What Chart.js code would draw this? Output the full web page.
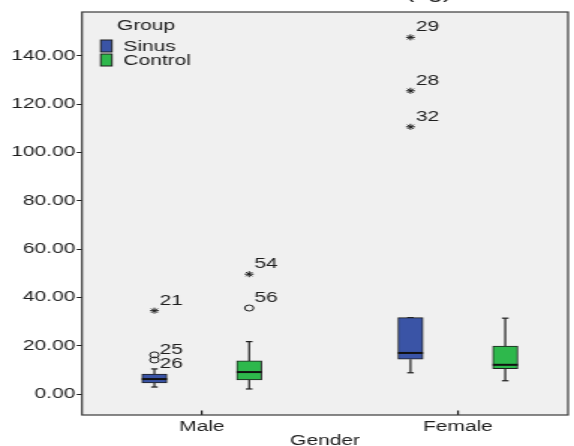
<!DOCTYPE html>
<html>
<head>
<meta charset="UTF-8">
<title>Boxplot by Gender</title>
<style>
  html, body { margin: 0; padding: 0; background: #fff; overflow: hidden; }
  /* the reference is stretched horizontally, so draw narrow and stretch */
  .wrap { width: 383px; height: 446px; transform: scaleX(1.49869); transform-origin: 0 0; }
</style>
<script src="https://cdn.jsdelivr.net/npm/chart.js"></script>
</head>
<body>
<div class="wrap"><canvas id="box" width="383" height="446"></canvas></div>
<script>
// categories
const genders = ['Male', 'Female'];
const groups = ['Sinus', 'Control'];
const yTicks = [0, 20, 40, 60, 80, 100, 120, 140];

// box statistics, one value per gender (Male, Female)
const sinusMin    = [3.0, 8.9];
const sinusQ1     = [4.7, 14.5];
const sinusMedian = [6.3, 17.1];
const sinusQ3     = [8.4, 31.7];
const sinusMax    = [10.5, 31.7];

const controlMin    = [2.2, 5.6];
const controlQ1     = [5.9, 10.6];
const controlMedian = [9.2, 12.2];
const controlQ3     = [13.8, 20.0];
const controlMax    = [21.8, 31.5];

// outliers (o) and extremes (*)
const outlierCase    = ['21', '25', '26', '29', '28', '32', '54', '56'];
const outlierGroup   = ['Sinus', 'Sinus', 'Sinus', 'Sinus', 'Sinus', 'Sinus', 'Control', 'Control'];
const outlierGender  = ['Male', 'Male', 'Male', 'Female', 'Female', 'Female', 'Male', 'Male'];
const outlierValue   = [34.6, 14.2, 16.3, 147.7, 125.6, 110.7, 49.7, 35.7];
const outlierExtreme = [true, false, false, true, true, true, true, false];

// styling
const colors = { Sinus: '#3a54a6', Control: '#2eb84c' };
const groupShift = { Sinus: -0.185, Control: 0.185 };
const boxWidth = 16.7;
const capHalf = 2.2;
const ink = '#1e1e1e';
const family = "'Liberation Sans', Arial, Helvetica, sans-serif";
const labelDy = { '26': 19 }; // case 26 label sits below its marker

const stats = {
  Sinus:   { min: sinusMin, q1: sinusQ1, med: sinusMedian, q3: sinusQ3, max: sinusMax },
  Control: { min: controlMin, q1: controlQ1, med: controlMedian, q3: controlQ3, max: controlMax }
};

function xPos(genderIdx, group) {
  return genderIdx + 1 + groupShift[group];
}

function boxData(group) {
  return genders.map((g, i) => ({ x: xPos(i, group), y: [stats[group].q1[i], stats[group].q3[i]] }));
}

const boxPlot = {
  id: 'boxPlot',
  beforeDraw(chart) {
    const { ctx, chartArea: a } = chart;
    ctx.save();
    ctx.fillStyle = '#f0f0f0';
    ctx.fillRect(a.left, a.top, a.right - a.left, a.bottom - a.top);
    ctx.restore();
  },
  beforeDatasetsDraw(chart) {
    // whiskers and caps
    const { ctx, scales: { x, y } } = chart;
    ctx.save();
    ctx.strokeStyle = ink;
    ctx.lineWidth = 1.2;
    groups.forEach(group => {
      const s = stats[group];
      genders.forEach((g, i) => {
        const px = x.getPixelForValue(xPos(i, group));
        [[s.min[i], s.q1[i]], [s.q3[i], s.max[i]]].forEach(([a, b]) => {
          if (a === b) return;
          const ya = y.getPixelForValue(a), yb = y.getPixelForValue(b);
          ctx.beginPath();
          ctx.moveTo(px, ya); ctx.lineTo(px, yb);
          ctx.stroke();
        });
        [s.min[i], s.max[i]].forEach(v => {
          const py = y.getPixelForValue(v);
          ctx.beginPath();
          ctx.moveTo(px - capHalf, py); ctx.lineTo(px + capHalf, py);
          ctx.stroke();
        });
      });
    });
    ctx.restore();
  },
  afterDatasetsDraw(chart) {
    const { ctx, chartArea: a, scales: { x, y } } = chart;
    ctx.save();

    // medians
    ctx.strokeStyle = '#111';
    ctx.lineWidth = 2;
    groups.forEach(group => {
      genders.forEach((g, i) => {
        const px = x.getPixelForValue(xPos(i, group));
        const py = y.getPixelForValue(stats[group].med[i]);
        ctx.beginPath();
        ctx.moveTo(px - boxWidth / 2, py); ctx.lineTo(px + boxWidth / 2, py);
        ctx.stroke();
      });
    });

    // case labels next to outliers
    ctx.fillStyle = ink;
    ctx.font = `14px ${family}`;
    ctx.textAlign = 'left';
    ctx.textBaseline = 'alphabetic';
    chart.getDatasetMeta(2).data.forEach((pt, i) => {
      const c = outlierCase[i];
      ctx.fillText(c, pt.x + 3.5, pt.y - 6 + (labelDy[c] || 0));
    });

    // frame
    ctx.strokeStyle = '#3a3a3a';
    ctx.lineWidth = 1.2;
    ctx.strokeRect(a.left, a.top, a.right - a.left, a.bottom - a.top);

    // legend inside the plot
    ctx.fillStyle = ink;
    ctx.fillText('Group', 78, 29.5);
    ctx.lineWidth = 1;
    ctx.strokeStyle = ink;
    groups.forEach((g, k) => {
      const top = 40 + k * 14;
      ctx.fillStyle = colors[g];
      ctx.fillRect(67.2, top, 7.5, 12);
      ctx.strokeRect(67.2, top, 7.5, 12);
      ctx.fillStyle = ink;
      ctx.fillText(g, 82.3, top + 11);
    });

    // title, mostly cut off above the picture
    ctx.font = `18px ${family}`;
    ctx.textAlign = 'center';
    ctx.textBaseline = 'alphabetic';
    ctx.fillText('Scores(kg)', 258, -2.5);
    ctx.restore();
  }
};

new Chart(document.getElementById('box'), {
  type: 'bar',
  data: {
    datasets: [
      {
        type: 'bar', label: 'Sinus', data: boxData('Sinus'),
        backgroundColor: colors.Sinus, borderColor: ink, borderWidth: 1,
        borderSkipped: false, barThickness: boxWidth, grouped: false
      },
      {
        type: 'bar', label: 'Control', data: boxData('Control'),
        backgroundColor: colors.Control, borderColor: ink, borderWidth: 1,
        borderSkipped: false, barThickness: boxWidth, grouped: false
      },
      {
        type: 'scatter', label: 'Outliers',
        data: outlierValue.map((v, i) => ({ x: xPos(genders.indexOf(outlierGender[i]), outlierGroup[i]), y: v })),
        pointStyle: outlierExtreme.map(e => e ? 'star' : 'circle'),
        pointRadius: 3, pointHoverRadius: 3,
        borderColor: ink, borderWidth: 1, backgroundColor: 'rgba(0,0,0,0)'
      }
    ]
  },
  options: {
    responsive: false,
    animation: false,
    events: [],
    layout: { padding: { top: 12, right: 0.67, bottom: 0, left: 0 } },
    plugins: { legend: { display: false }, tooltip: { enabled: false } },
    scales: {
      x: {
        type: 'linear', min: 0.5322, max: 2.4302, offset: false,
        afterBuildTicks: axis => { axis.ticks = genders.map((g, i) => ({ value: i + 1 })); },
        afterFit: axis => { axis.height = 31; },
        ticks: {
          autoSkip: false, maxRotation: 0, padding: 8.5, color: ink,
          font: { family, size: 14 },
          callback: v => genders[v - 1]
        },
        grid: { offset: false, drawOnChartArea: false, tickLength: -4.5, color: ink, lineWidth: 1.2 },
        border: { display: false },
        title: { display: true, text: 'Gender', color: ink, font: { family, size: 14, lineHeight: 1 }, padding: { top: 0, bottom: -2 } }
      },
      y: {
        min: -8.57, max: 158.2,
        afterBuildTicks: axis => { axis.ticks = yTicks.map(v => ({ value: v })); },
        afterFit: axis => { axis.width = 54.71; },
        ticks: { padding: 1, color: ink, font: { family, size: 14 }, callback: v => v.toFixed(2) },
        grid: { drawOnChartArea: false, tickLength: 3.5, color: ink, lineWidth: 1 },
        border: { display: false }
      }
    }
  },
  plugins: [boxPlot]
});
</script>
</body>
</html>
